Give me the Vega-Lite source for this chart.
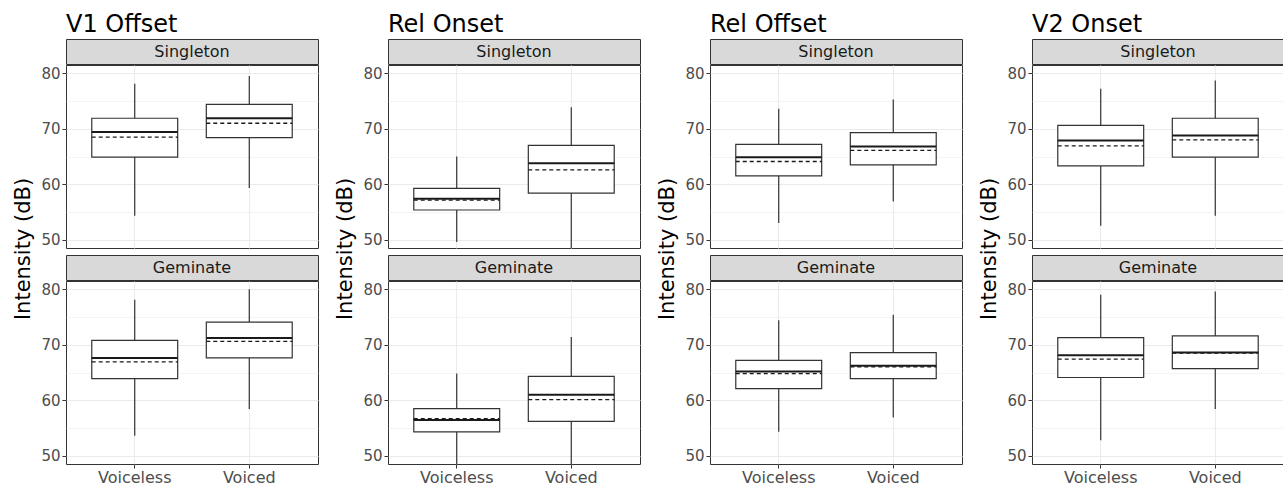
{
  "$schema": "https://vega.github.io/schema/vega-lite/v6.json",
  "background": "white",
  "padding": {"left": 13, "top": 12, "right": 0, "bottom": 0},
  "datasets": {
    "box": [
      {"measure": "V1 Offset", "gem": "Singleton", "voicing": "Voiceless", "lower": 54.3, "q1": 64.9, "median": 69.4, "mean": 68.5, "q3": 71.9, "upper": 78.1},
      {"measure": "V1 Offset", "gem": "Singleton", "voicing": "Voiced", "lower": 59.3, "q1": 68.4, "median": 71.9, "mean": 71.0, "q3": 74.4, "upper": 79.5},
      {"measure": "V1 Offset", "gem": "Geminate", "voicing": "Voiceless", "lower": 53.6, "q1": 63.9, "median": 67.6, "mean": 66.9, "q3": 70.8, "upper": 78.1},
      {"measure": "V1 Offset", "gem": "Geminate", "voicing": "Voiced", "lower": 58.4, "q1": 67.65, "median": 71.2, "mean": 70.6, "q3": 74.1, "upper": 80.0},
      {"measure": "Rel Onset", "gem": "Singleton", "voicing": "Voiceless", "lower": 49.6, "q1": 55.35, "median": 57.4, "mean": 57.15, "q3": 59.25, "upper": 65.0},
      {"measure": "Rel Onset", "gem": "Singleton", "voicing": "Voiced", "lower": 47.0, "q1": 58.4, "median": 63.8, "mean": 62.6, "q3": 67.0, "upper": 73.9},
      {"measure": "Rel Onset", "gem": "Geminate", "voicing": "Voiceless", "lower": 47.0, "q1": 54.3, "median": 56.45, "mean": 56.7, "q3": 58.5, "upper": 64.8},
      {"measure": "Rel Onset", "gem": "Geminate", "voicing": "Voiced", "lower": 47.0, "q1": 56.2, "median": 61.0, "mean": 60.1, "q3": 64.3, "upper": 71.4},
      {"measure": "Rel Offset", "gem": "Singleton", "voicing": "Voiceless", "lower": 53.0, "q1": 61.5, "median": 64.85, "mean": 64.1, "q3": 67.2, "upper": 73.6},
      {"measure": "Rel Offset", "gem": "Singleton", "voicing": "Voiced", "lower": 56.9, "q1": 63.5, "median": 66.8, "mean": 66.1, "q3": 69.3, "upper": 75.3},
      {"measure": "Rel Offset", "gem": "Geminate", "voicing": "Voiceless", "lower": 54.3, "q1": 62.1, "median": 65.2, "mean": 64.8, "q3": 67.2, "upper": 74.4},
      {"measure": "Rel Offset", "gem": "Geminate", "voicing": "Voiced", "lower": 56.9, "q1": 63.9, "median": 66.2, "mean": 66.0, "q3": 68.6, "upper": 75.4},
      {"measure": "V2 Onset", "gem": "Singleton", "voicing": "Voiceless", "lower": 52.5, "q1": 63.3, "median": 67.9, "mean": 66.9, "q3": 70.6, "upper": 77.2},
      {"measure": "V2 Onset", "gem": "Singleton", "voicing": "Voiced", "lower": 54.3, "q1": 64.9, "median": 68.8, "mean": 68.0, "q3": 71.9, "upper": 78.7},
      {"measure": "V2 Onset", "gem": "Geminate", "voicing": "Voiceless", "lower": 52.8, "q1": 64.1, "median": 68.1, "mean": 67.4, "q3": 71.3, "upper": 79.0},
      {"measure": "V2 Onset", "gem": "Geminate", "voicing": "Voiced", "lower": 58.4, "q1": 65.7, "median": 68.6, "mean": 68.5, "q3": 71.6, "upper": 79.6}
    ]
  },
  "spacing": 16,
  "hconcat": [
    {
      "title": {"text": "Intensity (dB)", "orient": "left", "anchor": "middle", "fontSize": 21, "offset": 6},
      "spacing": 5,
      "vconcat": [
        {"spacing": -2, "vconcat": [
          {"width": 252, "height": 25, "title": {"text": "V1 Offset", "anchor": "start", "frame": "group", "fontSize": 24, "offset": 2}, "view": {"fill": "#d9d9d9", "stroke": "#333333"}, "data": {"values": [{"lab": "Singleton"}]}, "mark": {"type": "text", "fontSize": 16, "color": "#1a1a1a", "baseline": "middle"}, "encoding": {"text": {"field": "lab"}}},
          {"width": 252, "height": 183, "data": {"name": "box"}, "transform": [{"filter": "datum.measure === 'V1 Offset' && datum.gem === 'Singleton'"}],
           "encoding": {"x": {"field": "voicing", "type": "nominal", "sort": ["Voiceless", "Voiced"], "scale": {"domain": ["Voiceless", "Voiced"], "paddingInner": 0.25, "paddingOuter": 0.225}, "axis": {"labels": false, "ticks": false, "grid": true}, "title": null}},
           "resolve": {"axis": {"y": "independent"}},
           "layer": [
             {"mark": {"type": "rule", "color": "#333333", "strokeWidth": 1.2, "clip": true}, "encoding": {"y": {"field": "lower", "type": "quantitative", "scale": {"domain": [48.5, 81.5], "nice": false, "zero": false}, "axis": {"values": [50, 60, 70, 80], "grid": true}, "title": null}, "y2": {"field": "upper"}}},
             {"mark": {"type": "bar", "fill": "white", "stroke": "#333333", "strokeWidth": 1.2}, "encoding": {"y": {"field": "q1", "type": "quantitative", "axis": {"values": [55, 65, 75], "labels": false, "ticks": false, "grid": true, "gridWidth": 0.55, "orient": "right"}, "title": null}, "y2": {"field": "q3"}}},
             {"mark": {"type": "rule", "color": "#1a1a1a", "strokeWidth": 2, "xOffset": -43, "x2Offset": 43}, "encoding": {"x2": {"field": "voicing"}, "y": {"field": "median", "type": "quantitative", "axis": null}}},
             {"mark": {"type": "rule", "color": "#1a1a1a", "strokeWidth": 1.3, "strokeDash": [4, 3], "xOffset": -43, "x2Offset": 43}, "encoding": {"x2": {"field": "voicing"}, "y": {"field": "mean", "type": "quantitative", "axis": null}}}
           ]}
        ]},
        {"spacing": -2, "vconcat": [
          {"width": 252, "height": 25, "view": {"fill": "#d9d9d9", "stroke": "#333333"}, "data": {"values": [{"lab": "Geminate"}]}, "mark": {"type": "text", "fontSize": 16, "color": "#1a1a1a", "baseline": "middle"}, "encoding": {"text": {"field": "lab"}}},
          {"width": 252, "height": 183, "data": {"name": "box"}, "transform": [{"filter": "datum.measure === 'V1 Offset' && datum.gem === 'Geminate'"}],
           "encoding": {"x": {"field": "voicing", "type": "nominal", "sort": ["Voiceless", "Voiced"], "scale": {"domain": ["Voiceless", "Voiced"], "paddingInner": 0.25, "paddingOuter": 0.225}, "axis": {"grid": true}, "title": null}},
           "resolve": {"axis": {"y": "independent"}},
           "layer": [
             {"mark": {"type": "rule", "color": "#333333", "strokeWidth": 1.2, "clip": true}, "encoding": {"y": {"field": "lower", "type": "quantitative", "scale": {"domain": [48.5, 81.5], "nice": false, "zero": false}, "axis": {"values": [50, 60, 70, 80], "grid": true}, "title": null}, "y2": {"field": "upper"}}},
             {"mark": {"type": "bar", "fill": "white", "stroke": "#333333", "strokeWidth": 1.2}, "encoding": {"y": {"field": "q1", "type": "quantitative", "axis": {"values": [55, 65, 75], "labels": false, "ticks": false, "grid": true, "gridWidth": 0.55, "orient": "right"}, "title": null}, "y2": {"field": "q3"}}},
             {"mark": {"type": "rule", "color": "#1a1a1a", "strokeWidth": 2, "xOffset": -43, "x2Offset": 43}, "encoding": {"x2": {"field": "voicing"}, "y": {"field": "median", "type": "quantitative", "axis": null}}},
             {"mark": {"type": "rule", "color": "#1a1a1a", "strokeWidth": 1.3, "strokeDash": [4, 3], "xOffset": -43, "x2Offset": 43}, "encoding": {"x2": {"field": "voicing"}, "y": {"field": "mean", "type": "quantitative", "axis": null}}}
           ]}
        ]}
      ]
    },
    {
      "title": {"text": "Intensity (dB)", "orient": "left", "anchor": "middle", "fontSize": 21, "offset": 6},
      "spacing": 5,
      "vconcat": [
        {"spacing": -2, "vconcat": [
          {"width": 252, "height": 25, "title": {"text": "Rel Onset", "anchor": "start", "frame": "group", "fontSize": 24, "offset": 2}, "view": {"fill": "#d9d9d9", "stroke": "#333333"}, "data": {"values": [{"lab": "Singleton"}]}, "mark": {"type": "text", "fontSize": 16, "color": "#1a1a1a", "baseline": "middle"}, "encoding": {"text": {"field": "lab"}}},
          {"width": 252, "height": 183, "data": {"name": "box"}, "transform": [{"filter": "datum.measure === 'Rel Onset' && datum.gem === 'Singleton'"}],
           "encoding": {"x": {"field": "voicing", "type": "nominal", "sort": ["Voiceless", "Voiced"], "scale": {"domain": ["Voiceless", "Voiced"], "paddingInner": 0.25, "paddingOuter": 0.225}, "axis": {"labels": false, "ticks": false, "grid": true}, "title": null}},
           "resolve": {"axis": {"y": "independent"}},
           "layer": [
             {"mark": {"type": "rule", "color": "#333333", "strokeWidth": 1.2, "clip": true}, "encoding": {"y": {"field": "lower", "type": "quantitative", "scale": {"domain": [48.5, 81.5], "nice": false, "zero": false}, "axis": {"values": [50, 60, 70, 80], "grid": true}, "title": null}, "y2": {"field": "upper"}}},
             {"mark": {"type": "bar", "fill": "white", "stroke": "#333333", "strokeWidth": 1.2}, "encoding": {"y": {"field": "q1", "type": "quantitative", "axis": {"values": [55, 65, 75], "labels": false, "ticks": false, "grid": true, "gridWidth": 0.55, "orient": "right"}, "title": null}, "y2": {"field": "q3"}}},
             {"mark": {"type": "rule", "color": "#1a1a1a", "strokeWidth": 2, "xOffset": -43, "x2Offset": 43}, "encoding": {"x2": {"field": "voicing"}, "y": {"field": "median", "type": "quantitative", "axis": null}}},
             {"mark": {"type": "rule", "color": "#1a1a1a", "strokeWidth": 1.3, "strokeDash": [4, 3], "xOffset": -43, "x2Offset": 43}, "encoding": {"x2": {"field": "voicing"}, "y": {"field": "mean", "type": "quantitative", "axis": null}}}
           ]}
        ]},
        {"spacing": -2, "vconcat": [
          {"width": 252, "height": 25, "view": {"fill": "#d9d9d9", "stroke": "#333333"}, "data": {"values": [{"lab": "Geminate"}]}, "mark": {"type": "text", "fontSize": 16, "color": "#1a1a1a", "baseline": "middle"}, "encoding": {"text": {"field": "lab"}}},
          {"width": 252, "height": 183, "data": {"name": "box"}, "transform": [{"filter": "datum.measure === 'Rel Onset' && datum.gem === 'Geminate'"}],
           "encoding": {"x": {"field": "voicing", "type": "nominal", "sort": ["Voiceless", "Voiced"], "scale": {"domain": ["Voiceless", "Voiced"], "paddingInner": 0.25, "paddingOuter": 0.225}, "axis": {"grid": true}, "title": null}},
           "resolve": {"axis": {"y": "independent"}},
           "layer": [
             {"mark": {"type": "rule", "color": "#333333", "strokeWidth": 1.2, "clip": true}, "encoding": {"y": {"field": "lower", "type": "quantitative", "scale": {"domain": [48.5, 81.5], "nice": false, "zero": false}, "axis": {"values": [50, 60, 70, 80], "grid": true}, "title": null}, "y2": {"field": "upper"}}},
             {"mark": {"type": "bar", "fill": "white", "stroke": "#333333", "strokeWidth": 1.2}, "encoding": {"y": {"field": "q1", "type": "quantitative", "axis": {"values": [55, 65, 75], "labels": false, "ticks": false, "grid": true, "gridWidth": 0.55, "orient": "right"}, "title": null}, "y2": {"field": "q3"}}},
             {"mark": {"type": "rule", "color": "#1a1a1a", "strokeWidth": 2, "xOffset": -43, "x2Offset": 43}, "encoding": {"x2": {"field": "voicing"}, "y": {"field": "median", "type": "quantitative", "axis": null}}},
             {"mark": {"type": "rule", "color": "#1a1a1a", "strokeWidth": 1.3, "strokeDash": [4, 3], "xOffset": -43, "x2Offset": 43}, "encoding": {"x2": {"field": "voicing"}, "y": {"field": "mean", "type": "quantitative", "axis": null}}}
           ]}
        ]}
      ]
    },
    {
      "title": {"text": "Intensity (dB)", "orient": "left", "anchor": "middle", "fontSize": 21, "offset": 6},
      "spacing": 5,
      "vconcat": [
        {"spacing": -2, "vconcat": [
          {"width": 252, "height": 25, "title": {"text": "Rel Offset", "anchor": "start", "frame": "group", "fontSize": 24, "offset": 2}, "view": {"fill": "#d9d9d9", "stroke": "#333333"}, "data": {"values": [{"lab": "Singleton"}]}, "mark": {"type": "text", "fontSize": 16, "color": "#1a1a1a", "baseline": "middle"}, "encoding": {"text": {"field": "lab"}}},
          {"width": 252, "height": 183, "data": {"name": "box"}, "transform": [{"filter": "datum.measure === 'Rel Offset' && datum.gem === 'Singleton'"}],
           "encoding": {"x": {"field": "voicing", "type": "nominal", "sort": ["Voiceless", "Voiced"], "scale": {"domain": ["Voiceless", "Voiced"], "paddingInner": 0.25, "paddingOuter": 0.225}, "axis": {"labels": false, "ticks": false, "grid": true}, "title": null}},
           "resolve": {"axis": {"y": "independent"}},
           "layer": [
             {"mark": {"type": "rule", "color": "#333333", "strokeWidth": 1.2, "clip": true}, "encoding": {"y": {"field": "lower", "type": "quantitative", "scale": {"domain": [48.5, 81.5], "nice": false, "zero": false}, "axis": {"values": [50, 60, 70, 80], "grid": true}, "title": null}, "y2": {"field": "upper"}}},
             {"mark": {"type": "bar", "fill": "white", "stroke": "#333333", "strokeWidth": 1.2}, "encoding": {"y": {"field": "q1", "type": "quantitative", "axis": {"values": [55, 65, 75], "labels": false, "ticks": false, "grid": true, "gridWidth": 0.55, "orient": "right"}, "title": null}, "y2": {"field": "q3"}}},
             {"mark": {"type": "rule", "color": "#1a1a1a", "strokeWidth": 2, "xOffset": -43, "x2Offset": 43}, "encoding": {"x2": {"field": "voicing"}, "y": {"field": "median", "type": "quantitative", "axis": null}}},
             {"mark": {"type": "rule", "color": "#1a1a1a", "strokeWidth": 1.3, "strokeDash": [4, 3], "xOffset": -43, "x2Offset": 43}, "encoding": {"x2": {"field": "voicing"}, "y": {"field": "mean", "type": "quantitative", "axis": null}}}
           ]}
        ]},
        {"spacing": -2, "vconcat": [
          {"width": 252, "height": 25, "view": {"fill": "#d9d9d9", "stroke": "#333333"}, "data": {"values": [{"lab": "Geminate"}]}, "mark": {"type": "text", "fontSize": 16, "color": "#1a1a1a", "baseline": "middle"}, "encoding": {"text": {"field": "lab"}}},
          {"width": 252, "height": 183, "data": {"name": "box"}, "transform": [{"filter": "datum.measure === 'Rel Offset' && datum.gem === 'Geminate'"}],
           "encoding": {"x": {"field": "voicing", "type": "nominal", "sort": ["Voiceless", "Voiced"], "scale": {"domain": ["Voiceless", "Voiced"], "paddingInner": 0.25, "paddingOuter": 0.225}, "axis": {"grid": true}, "title": null}},
           "resolve": {"axis": {"y": "independent"}},
           "layer": [
             {"mark": {"type": "rule", "color": "#333333", "strokeWidth": 1.2, "clip": true}, "encoding": {"y": {"field": "lower", "type": "quantitative", "scale": {"domain": [48.5, 81.5], "nice": false, "zero": false}, "axis": {"values": [50, 60, 70, 80], "grid": true}, "title": null}, "y2": {"field": "upper"}}},
             {"mark": {"type": "bar", "fill": "white", "stroke": "#333333", "strokeWidth": 1.2}, "encoding": {"y": {"field": "q1", "type": "quantitative", "axis": {"values": [55, 65, 75], "labels": false, "ticks": false, "grid": true, "gridWidth": 0.55, "orient": "right"}, "title": null}, "y2": {"field": "q3"}}},
             {"mark": {"type": "rule", "color": "#1a1a1a", "strokeWidth": 2, "xOffset": -43, "x2Offset": 43}, "encoding": {"x2": {"field": "voicing"}, "y": {"field": "median", "type": "quantitative", "axis": null}}},
             {"mark": {"type": "rule", "color": "#1a1a1a", "strokeWidth": 1.3, "strokeDash": [4, 3], "xOffset": -43, "x2Offset": 43}, "encoding": {"x2": {"field": "voicing"}, "y": {"field": "mean", "type": "quantitative", "axis": null}}}
           ]}
        ]}
      ]
    },
    {
      "title": {"text": "Intensity (dB)", "orient": "left", "anchor": "middle", "fontSize": 21, "offset": 6},
      "spacing": 5,
      "vconcat": [
        {"spacing": -2, "vconcat": [
          {"width": 252, "height": 25, "title": {"text": "V2 Onset", "anchor": "start", "frame": "group", "fontSize": 24, "offset": 2}, "view": {"fill": "#d9d9d9", "stroke": "#333333"}, "data": {"values": [{"lab": "Singleton"}]}, "mark": {"type": "text", "fontSize": 16, "color": "#1a1a1a", "baseline": "middle"}, "encoding": {"text": {"field": "lab"}}},
          {"width": 252, "height": 183, "data": {"name": "box"}, "transform": [{"filter": "datum.measure === 'V2 Onset' && datum.gem === 'Singleton'"}],
           "encoding": {"x": {"field": "voicing", "type": "nominal", "sort": ["Voiceless", "Voiced"], "scale": {"domain": ["Voiceless", "Voiced"], "paddingInner": 0.25, "paddingOuter": 0.225}, "axis": {"labels": false, "ticks": false, "grid": true}, "title": null}},
           "resolve": {"axis": {"y": "independent"}},
           "layer": [
             {"mark": {"type": "rule", "color": "#333333", "strokeWidth": 1.2, "clip": true}, "encoding": {"y": {"field": "lower", "type": "quantitative", "scale": {"domain": [48.5, 81.5], "nice": false, "zero": false}, "axis": {"values": [50, 60, 70, 80], "grid": true}, "title": null}, "y2": {"field": "upper"}}},
             {"mark": {"type": "bar", "fill": "white", "stroke": "#333333", "strokeWidth": 1.2}, "encoding": {"y": {"field": "q1", "type": "quantitative", "axis": {"values": [55, 65, 75], "labels": false, "ticks": false, "grid": true, "gridWidth": 0.55, "orient": "right"}, "title": null}, "y2": {"field": "q3"}}},
             {"mark": {"type": "rule", "color": "#1a1a1a", "strokeWidth": 2, "xOffset": -43, "x2Offset": 43}, "encoding": {"x2": {"field": "voicing"}, "y": {"field": "median", "type": "quantitative", "axis": null}}},
             {"mark": {"type": "rule", "color": "#1a1a1a", "strokeWidth": 1.3, "strokeDash": [4, 3], "xOffset": -43, "x2Offset": 43}, "encoding": {"x2": {"field": "voicing"}, "y": {"field": "mean", "type": "quantitative", "axis": null}}}
           ]}
        ]},
        {"spacing": -2, "vconcat": [
          {"width": 252, "height": 25, "view": {"fill": "#d9d9d9", "stroke": "#333333"}, "data": {"values": [{"lab": "Geminate"}]}, "mark": {"type": "text", "fontSize": 16, "color": "#1a1a1a", "baseline": "middle"}, "encoding": {"text": {"field": "lab"}}},
          {"width": 252, "height": 183, "data": {"name": "box"}, "transform": [{"filter": "datum.measure === 'V2 Onset' && datum.gem === 'Geminate'"}],
           "encoding": {"x": {"field": "voicing", "type": "nominal", "sort": ["Voiceless", "Voiced"], "scale": {"domain": ["Voiceless", "Voiced"], "paddingInner": 0.25, "paddingOuter": 0.225}, "axis": {"grid": true}, "title": null}},
           "resolve": {"axis": {"y": "independent"}},
           "layer": [
             {"mark": {"type": "rule", "color": "#333333", "strokeWidth": 1.2, "clip": true}, "encoding": {"y": {"field": "lower", "type": "quantitative", "scale": {"domain": [48.5, 81.5], "nice": false, "zero": false}, "axis": {"values": [50, 60, 70, 80], "grid": true}, "title": null}, "y2": {"field": "upper"}}},
             {"mark": {"type": "bar", "fill": "white", "stroke": "#333333", "strokeWidth": 1.2}, "encoding": {"y": {"field": "q1", "type": "quantitative", "axis": {"values": [55, 65, 75], "labels": false, "ticks": false, "grid": true, "gridWidth": 0.55, "orient": "right"}, "title": null}, "y2": {"field": "q3"}}},
             {"mark": {"type": "rule", "color": "#1a1a1a", "strokeWidth": 2, "xOffset": -43, "x2Offset": 43}, "encoding": {"x2": {"field": "voicing"}, "y": {"field": "median", "type": "quantitative", "axis": null}}},
             {"mark": {"type": "rule", "color": "#1a1a1a", "strokeWidth": 1.3, "strokeDash": [4, 3], "xOffset": -43, "x2Offset": 43}, "encoding": {"x2": {"field": "voicing"}, "y": {"field": "mean", "type": "quantitative", "axis": null}}}
           ]}
        ]}
      ]
    }
  ],
  "config": {
    "font": "DejaVu Sans",
    "view": {"stroke": "#333333", "strokeWidth": 1},
    "axis": {"labelFont": "DejaVu Sans", "labelColor": "#4d4d4d", "tickColor": "#333333", "tickSize": 4, "domain": false, "gridColor": "#ebebeb", "gridWidth": 1.1},
    "axisY": {"labelFontSize": 15, "labelPadding": 2},
    "axisX": {"labelFontSize": 16, "labelPadding": 1, "labelAngle": 0},
    "title": {"font": "DejaVu Sans", "fontWeight": "normal", "color": "#000000"}
  }
}
